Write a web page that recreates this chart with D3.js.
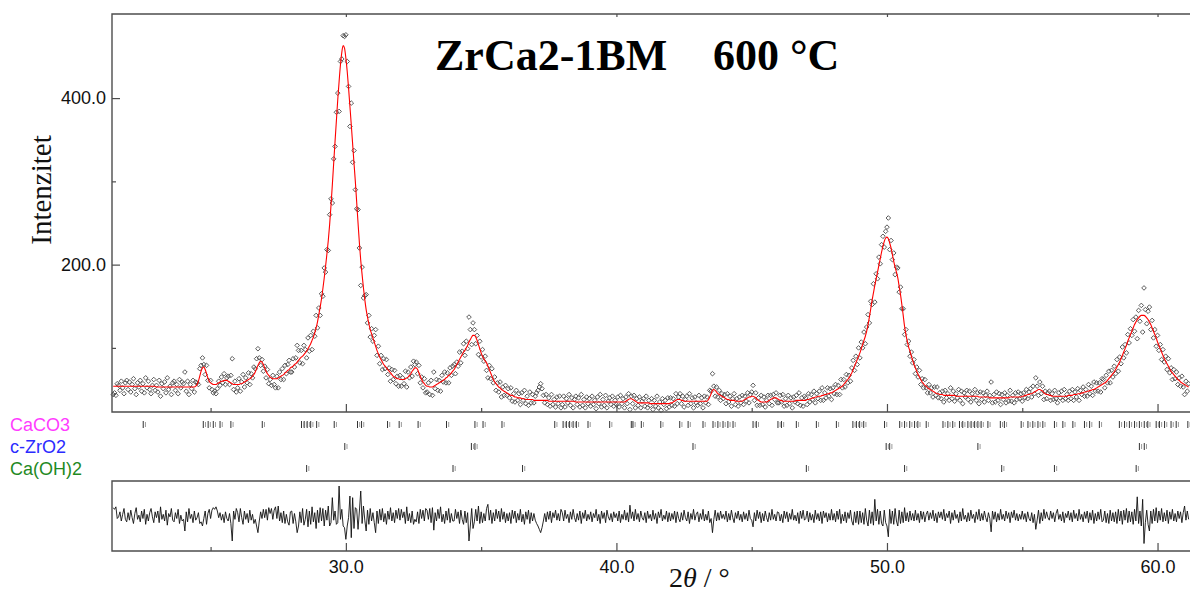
<!DOCTYPE html>
<html><head><meta charset="utf-8">
<script src="https://cdn.jsdelivr.net/npm/d3@7"></script>
<style>body{margin:0;background:#fff;} svg{display:block}</style>
</head><body><svg id="c" width="1190" height="594"></svg>
<script>
// scan grid (instrument step)
const scanStart = 21.40, scanStep = 0.05;

// calculated profile (one row per degree, 21.40 .. 61.15)
const calc = [
54,54,54,54,54,54,54,54,54,54,54,54,
54,54,54,54,54,54,54,54,54,54,54,54,54,54,54,54,54,54,54,54,
53,53,53,53,53,53,53,53,53,53,53,53,53,53,53,53,53,53,53,53,
53,53,53,53,53,53,53,53,53,54,56,60,66,72,76,77,74,69,64,60,
58,57,56,56,56,57,58,59,60,60,61,61,61,60,59,58,57,56,56,56,
56,56,57,57,58,59,60,61,62,63,64,66,68,71,75,79,82,84,83,80,
76,72,69,67,65,64,63,63,63,63,64,65,66,67,68,70,71,73,74,76,
77,78,80,81,83,85,87,89,90,92,94,96,99,102,105,109,113,118,124,131,
140,149,159,171,184,198,213,229,248,271,296,322,348,373,398,420,440,455,463,460,
448,432,412,390,368,345,322,300,275,250,226,205,188,172,158,146,137,129,122,117,
112,107,102,97,93,89,86,83,80,78,76,74,72,70,68,66,65,64,63,63,
62,62,62,62,63,64,65,67,69,72,74,76,76,74,70,66,62,59,57,55,
54,54,53,53,53,54,55,56,57,58,59,60,61,62,64,65,67,68,70,72,
74,77,80,83,86,89,92,95,97,100,103,107,110,113,115,115,113,109,104,99,
94,90,87,84,82,78,74,70,66,62,59,57,55,53,52,50,49,48,47,46,
45,44,43,43,42,41,41,40,40,40,39,39,39,38,38,38,38,38,38,37,
37,37,37,37,37,37,37,37,37,37,36,36,36,36,36,36,36,36,36,36,
36,36,36,36,36,36,36,36,36,36,35,35,35,35,35,35,35,35,35,35,
35,35,35,35,35,35,35,35,35,35,35,35,35,35,35,35,35,35,35,35,
35,35,35,35,35,35,35,36,37,38,39,39,38,37,36,35,34,34,34,34,
34,34,34,34,34,33,33,33,33,33,33,33,33,33,33,33,33,33,33,33,
34,34,35,36,37,38,38,38,37,37,36,36,36,36,36,36,36,36,36,36,
36,36,36,36,36,36,36,36,38,41,45,49,50,49,47,45,44,43,42,41,
40,39,38,38,37,37,37,37,36,36,36,36,36,36,37,38,39,40,41,41,
42,42,41,40,38,37,36,35,35,35,35,35,36,37,38,39,40,40,40,39,
38,37,37,36,36,36,36,36,36,36,36,36,36,37,37,37,37,37,37,37,
37,38,38,39,39,40,40,41,41,42,42,42,43,43,44,44,45,45,46,46,
47,48,49,50,51,52,53,54,56,58,60,62,64,67,70,74,78,82,86,90,
94,99,104,109,114,120,128,137,147,157,166,175,183,191,199,207,215,222,228,232,
233,231,226,220,212,204,197,191,184,174,164,152,139,126,116,108,101,96,90,85,
80,76,72,68,65,62,59,57,55,54,52,51,50,49,48,47,46,45,45,44,
44,44,43,43,43,43,43,43,43,43,43,42,42,42,42,42,42,42,42,42,
42,42,42,42,42,42,42,42,41,41,41,41,41,41,41,41,40,40,40,40,
40,40,40,40,40,40,40,40,40,40,40,41,41,41,41,41,41,41,41,41,
42,42,43,43,44,44,45,45,46,47,48,49,50,50,49,48,46,45,44,44,
43,43,42,42,42,42,42,42,42,42,42,42,42,42,43,43,43,43,44,44,
44,45,45,45,46,46,47,47,48,48,49,49,50,50,51,52,53,54,55,56,
57,58,59,61,63,65,67,69,71,74,77,80,83,87,91,95,99,103,108,112,
116,120,124,128,131,134,136,138,139,139,139,138,136,134,131,128,124,120,116,112,
107,103,99,95,91,87,84,81,78,75,72,70,68,66,64,62,61,59,58,57,
56,55,54,53
];

// observed intensities, same grid
const obs = [
44,46,43,57,55,49,60,52,45,58,61,50,
59,47,56,63,51,44,58,53,61,48,57,46,64,52,60,50,45,55,62,49,
55,47,61,42,57,51,59,46,64,50,54,44,58,60,49,56,45,62,52,59,
57,71,48,60,44,56,51,61,47,59,58,56,75,79,88,80,68,79,61,52,
61,50,46,48,45,51,60,55,65,58,69,56,64,66,56,67,87,50,60,47,
52,63,48,59,68,53,64,58,70,56,69,64,77,75,87,99,88,79,86,72,
78,64,74,57,62,55,67,56,52,66,52,71,62,75,62,79,69,80,85,71,
71,87,77,88,103,97,82,97,81,103,98,88,112,96,115,98,120,114,139,124,
148,139,165,162,196,191,218,217,260,279,274,327,342,383,406,384,444,447,475,474,
476,444,414,366,394,323,337,290,267,266,220,175,197,160,163,164,130,139,113,123,
108,115,122,91,102,81,91,74,87,75,86,68,76,60,74,62,73,57,66,54,
67,54,64,57,72,53,71,64,77,66,84,80,83,69,79,58,65,52,63,46,
47,58,44,61,43,71,51,62,49,61,48,67,59,71,58,70,58,76,67,78,
80,69,83,78,95,82,96,105,91,108,99,137,122,104,130,122,105,115,92,108,
89,98,84,90,73,64,79,63,75,58,65,49,58,47,59,41,53,43,55,43,
51,40,52,36,45,35,49,37,45,32,46,37,49,33,42,31,47,34,44,34,
42,46,49,53,57,51,43,34,44,32,40,30,44,32,38,29,41,33,42,28,
32,42,29,39,34,44,31,40,28,38,42,32,40,29,44,31,38,28,41,33,
39,30,42,32,37,27,41,33,44,29,38,31,43,28,36,40,32,42,30,37,
32,41,29,43,33,39,28,41,33,45,26,42,33,43,28,39,31,41,28,36,
39,30,42,28,37,31,39,26,37,30,42,28,35,25,39,32,37,27,40,29,
40,31,39,30,45,33,41,45,33,42,29,38,42,31,45,33,40,28,41,34,
31,43,33,40,28,42,34,41,32,49,48,69,54,42,53,41,49,37,45,39,
44,33,45,35,42,30,39,45,32,39,30,41,34,43,32,42,36,46,34,44,
47,55,37,46,31,40,31,43,32,41,29,37,43,33,43,31,44,38,46,34,
34,43,35,44,30,39,31,43,33,40,28,41,35,43,33,46,31,40,30,42,
40,32,45,35,44,38,48,34,45,39,48,37,52,37,46,40,52,42,51,38,
52,45,56,44,55,44,62,52,62,53,68,58,67,60,76,85,73,90,80,100,
88,107,100,119,105,125,140,130,156,152,177,155,189,183,209,201,224,234,221,240,
245,256,218,229,206,214,188,197,196,167,173,147,147,116,122,104,108,90,95,82,
86,69,77,65,73,56,63,52,62,52,46,56,46,52,41,53,43,53,40,46,
39,48,35,49,40,45,37,52,39,48,36,45,40,50,37,48,33,46,41,49,
38,48,35,45,40,50,37,46,33,47,38,46,35,43,48,37,43,59,34,44,
35,47,37,45,32,44,38,46,34,43,36,49,36,43,34,46,38,47,39,45,
36,46,40,50,39,47,51,41,54,45,64,54,43,59,45,54,38,48,39,46,
48,37,45,38,49,39,34,46,40,48,37,50,39,44,37,48,39,50,37,47,
41,51,37,49,44,53,42,50,42,56,45,54,43,59,48,58,48,58,47,63,
62,52,67,58,72,58,73,65,78,69,86,72,89,81,101,88,104,94,116,106,
123,115,134,120,137,111,145,132,151,119,172,146,129,144,149,122,133,112,122,102,
115,97,104,86,98,83,90,74,87,70,76,62,74,63,71,56,64,54,66,53,
44,60,48,57
];

// Bragg reflection positions (2theta)
const reflCaCO3 = [22.51,24.73,24.91,25.10,25.35,25.75,26.91,28.36,28.46,28.57,28.70,28.92,29.57,30.43,30.58,31.54,31.97,
  32.67,33.72,34.77,35.07,35.77,37.72,38.03,38.15,38.27,38.40,38.52,38.95,39.75,40.55,40.61,40.92,41.64,42.34,42.65,
  43.20,43.57,43.75,43.94,44.12,44.31,45.05,45.17,45.97,46.10,46.65,47.39,48.13,48.74,48.87,48.99,49.14,49.91,50.47,
  50.65,50.84,51.02,51.14,51.45,52.07,52.25,52.43,52.68,52.80,52.99,53.11,53.24,53.36,53.48,53.73,54.19,54.34,54.96,
  55.21,55.39,55.58,55.76,56.19,56.50,56.87,57.30,57.49,57.85,58.59,58.78,58.96,59.15,59.33,59.51,59.64,59.95,60.07,
  60.26,60.50,60.69,61.12];
const reflZrO2 = [29.96,34.64,34.77,42.83,49.97,50.10,53.36,59.33,59.51];
const reflCaOH2 = [28.55,33.96,36.53,47.02,50.65,54.24,56.19,59.21];

const phaseNames = ["CaCO3","c-ZrO2","Ca(OH)2"];
const phaseColors = ["#ff3dff","#2b2bff","#1f8a1f"];
const xMajorTicks = [30,40,50,60];
const xMinorTicks = [25,35,45,55];
const yMajorTicks = [200,400];
const yMinorTicks = [100,300];
const titleMain = "ZrCa2-1BM", titleTemp = "600 °C";
const yLabel = "Intenzitet";

const twoTheta = calc.map((_, i) => +(scanStart + i * scanStep).toFixed(2));
const rows = twoTheta.map((t, i) => ({t, obs: obs[i], calc: calc[i], diff: calc[i] - obs[i]}));

const svg = d3.select("#c");
const L = 112, R = 1190, T = 14, B = 412, DT = 481, DB = 551;
const x = d3.scaleLinear().domain([21.356, 61.2]).range([L, R]);
const y = d3.scaleLinear().domain([23, 501]).range([B, T]);
const yd = d3.scaleLinear().domain([-42, 42]).range([DB, DT]);

const frame = "#4d4d4d";
const sans = "'Liberation Sans', Arial, sans-serif";
const serif = "'Liberation Serif', 'Times New Roman', serif";

svg.append("defs").append("clipPath").attr("id","dclip")
  .append("rect").attr("x", L).attr("y", DT).attr("width", R - L).attr("height", DB - DT);

// observed points
const dia = 2.3;
svg.append("g").selectAll("path").data(rows).join("path")
  .attr("d", d => `M${x(d.t)},${y(d.obs) - dia}L${x(d.t) + dia},${y(d.obs)}L${x(d.t)},${y(d.obs) + dia}L${x(d.t) - dia},${y(d.obs)}Z`)
  .attr("fill", "none").attr("stroke", "#4a4a4a").attr("stroke-width", 0.9);

// calculated line
svg.append("path").datum(rows)
  .attr("d", d3.line().x(d => x(d.t)).y(d => y(d.calc)).curve(d3.curveMonotoneX))
  .attr("fill", "none").attr("stroke", "#ff0000").attr("stroke-width", 1.1);

// difference curve
svg.append("path").datum(rows).attr("clip-path", "url(#dclip)")
  .attr("d", d3.line().x(d => x(d.t)).y(d => yd(d.diff)))
  .attr("fill", "none").attr("stroke", "#111").attr("stroke-width", 0.9);

// frames
const fr = svg.append("g").attr("stroke", frame).attr("stroke-width", 1.4).attr("fill", "none");
fr.append("path").attr("d", `M${R},${T}H${L}V${B}H${R}`);
fr.append("path").attr("d", `M${R},${DT}H${L}V${DB}H${R}`);

// axes ticks
function styleAxis(g) {
  g.select(".domain").remove();
  g.selectAll(".tick line").attr("stroke", frame).attr("stroke-width", 1.2);
  g.selectAll(".tick text").attr("font-family", sans).attr("font-size", 18).attr("fill", "#111");
}
svg.append("g").attr("transform", `translate(0,${B})`)
  .call(d3.axisBottom(x).tickValues(xMajorTicks).tickSizeInner(-8).tickSizeOuter(0).tickFormat("")).call(styleAxis);
svg.append("g").attr("transform", `translate(0,${B})`)
  .call(d3.axisBottom(x).tickValues(xMinorTicks).tickSizeInner(-4).tickSizeOuter(0).tickFormat("")).call(styleAxis);
svg.append("g").attr("transform", `translate(0,${T})`)
  .call(d3.axisTop(x).tickValues(xMajorTicks).tickSizeInner(-3).tickSizeOuter(0).tickFormat("")).call(styleAxis);
svg.append("g").attr("transform", `translate(0,${DB})`)
  .call(d3.axisBottom(x).tickValues(xMajorTicks).tickSizeInner(-8).tickSizeOuter(0).tickPadding(9).tickFormat(d3.format(".1f"))).call(styleAxis);
svg.append("g").attr("transform", `translate(0,${DB})`)
  .call(d3.axisBottom(x).tickValues(xMinorTicks).tickSizeInner(-4).tickSizeOuter(0).tickFormat("")).call(styleAxis);
svg.append("g").attr("transform", `translate(${L},0)`)
  .call(d3.axisLeft(y).tickValues(yMajorTicks).tickSizeInner(-8).tickSizeOuter(0).tickPadding(6).tickFormat(d3.format(".1f"))).call(styleAxis);
svg.append("g").attr("transform", `translate(${L},0)`)
  .call(d3.axisLeft(y).tickValues(yMinorTicks).tickSizeInner(-4).tickSizeOuter(0).tickFormat("")).call(styleAxis);

// reflection markers
const phases = [reflCaCO3, reflZrO2, reflCaOH2];
const rowY = [424.5, 446.5, 468.5];
phases.forEach((refl, k) => {
  const g = svg.append("g");
  g.selectAll("line.a").data(refl).join("line").attr("class","a")
    .attr("x1", d => x(d)).attr("x2", d => x(d)).attr("y1", rowY[k] - 3.5).attr("y2", rowY[k] + 3.5)
    .attr("stroke", "#333").attr("stroke-width", 1);
  g.selectAll("line.b").data(refl).join("line").attr("class","b")
    .attr("x1", d => x(d) + 2.2).attr("x2", d => x(d) + 2.2).attr("y1", rowY[k] - 2.5).attr("y2", rowY[k] + 2.5)
    .attr("stroke", "#9a9a9a").attr("stroke-width", 1);
  svg.append("text").attr("x", 10).attr("y", rowY[k] + 6)
    .attr("font-family", sans).attr("font-size", 18).attr("fill", phaseColors[k]).text(phaseNames[k]);
});

// titles
svg.append("text").attr("x", 435).attr("y", 70).attr("font-family", serif).attr("font-weight", "bold")
  .attr("font-size", 44).attr("fill", "#000").text(titleMain);
svg.append("text").attr("x", 713).attr("y", 70).attr("font-family", serif).attr("font-weight", "bold")
  .attr("font-size", 44).attr("fill", "#000").text(titleTemp);

svg.append("text").attr("transform", "translate(51,190) rotate(-90)").attr("text-anchor", "middle")
  .attr("font-family", serif).attr("font-size", 29).attr("fill", "#111").text(yLabel);

const xl = svg.append("text").attr("x", 669).attr("y", 587).attr("font-family", serif).attr("font-size", 28).attr("fill", "#111");
xl.append("tspan").text("2");
xl.append("tspan").attr("font-style", "italic").text("θ");
xl.append("tspan").text(" / °");
</script></body></html>
